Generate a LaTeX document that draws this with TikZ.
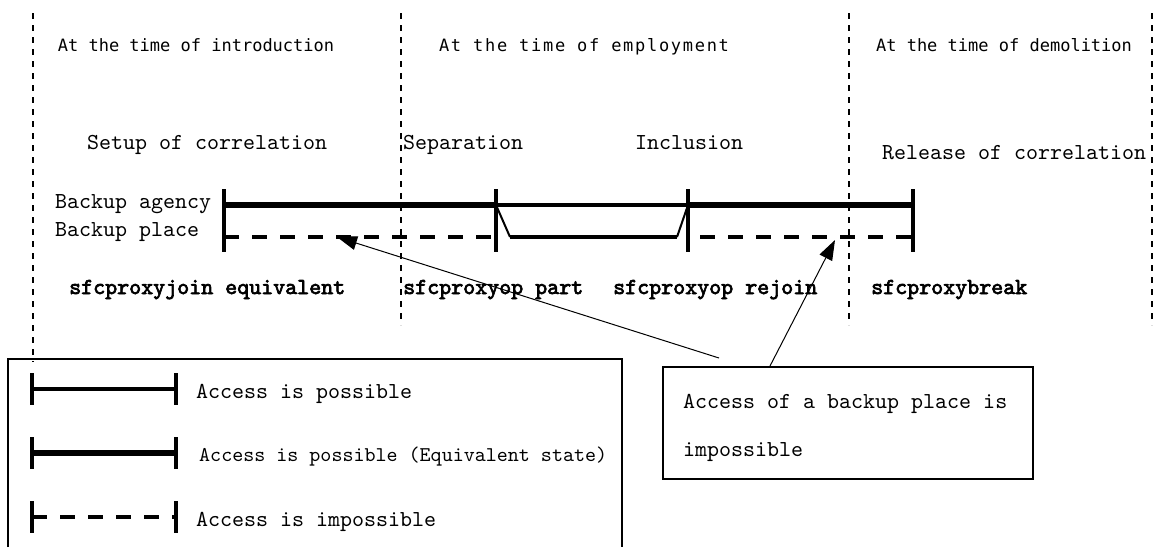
\documentclass[tikz,border=0pt]{standalone}
\usepackage{fontspec}
\newfontfamily\mono{lmmono10-regular.otf}
\newfontfamily\cmdfont{lmmono10-regular.otf}[FakeBold=3]
\newfontfamily\hdfont{DejaVu Sans Mono}
\newfontfamily\hdwide{DejaVu Sans Mono}[LetterSpace=10]
\usetikzlibrary{arrows.meta}
\begin{document}
\begin{tikzpicture}[x=1pt,y=-1pt,
  sepline/.style={line width=1.3pt, dash pattern=on 6pt off 6pt},
  thickln/.style={line width=6pt},
  thinln/.style={line width=3.2pt},
  dashln/.style={line width=4pt, dash pattern=on 15pt off 13pt},
  tickln/.style={line width=3.5pt},
  slantln/.style={line width=2pt},
  arr/.style={line width=1pt, -{Triangle[length=20pt,width=14pt]}},
  boxst/.style={draw, line width=1.5pt, inner sep=0pt, rectangle},
  txt/.style={inner sep=0pt, anchor=base west, font=\mono\fontsize{22.86}{26}\selectfont},
  cmd/.style={inner sep=0pt, anchor=base west, font=\cmdfont\fontsize{22.86}{26}\selectfont},
  hd/.style={inner sep=0pt, anchor=base, font=\hdfont\fontsize{17}{20}\selectfont},
  hdw/.style={inner sep=0pt, anchor=base, font=\hdwide\fontsize{17}{20}\selectfont}
]
\useasboundingbox[fill=white] (0,0) rectangle (1158,547);

% phase separators
\draw[sepline] (33,13) -- (33,362);
\draw[sepline] (401,13) -- (401,325);
\draw[sepline] (849,13) -- (849,325);
\draw[sepline] (1152,13) -- (1152,325);

% headers
\node[hd]  (h1) at (196,51) {At the time of introduction};
\node[hdw] (h2) at (584,51) {At the time of employment};
\node[hd]  (h3) at (1004,51) {At the time of demolition};

% operations
\node[txt] (o1) at (87,149) {Setup of correlation};
\node[txt] (o2) at (403,149) {Separation};
\node[txt] (o3) at (635,149) {Inclusion};
\node[txt] (o4) at (882,159) {Release of correlation};

% row labels
\node[txt] (ra) at (55,208) {Backup agency};
\node[txt] (rp) at (55,236) {Backup place};

% timeline coordinates
\coordinate (a1) at (224,205);
\coordinate (a2) at (496,205);
\coordinate (a3) at (688,205);
\coordinate (a4) at (913,205);
\coordinate (p1) at (224,237);
\coordinate (p2) at (496,237);
\coordinate (p2s) at (510,237);
\coordinate (p3s) at (677,237);
\coordinate (p3) at (688,237);
\coordinate (p4) at (913,237);

% backup agency
\draw[thickln] (a1) -- (a2);
\draw[thinln] (a2) -- (a3);
\draw[thickln] (a3) -- (a4);
% backup place
\draw[dashln] (p1) -- (p2);
\draw[slantln] (a2) -- (p2s);
\draw[thinln] (p2s) -- (p3s);
\draw[slantln] (p3s) -- (a3);
\draw[dashln, dash phase=16pt] (p3) -- (p4);
% ticks
\foreach \x in {224,496,688,913} \draw[tickln] (\x,189) -- (\x,252);

% commands
\node[cmd] (c1) at (69,294) {sfcproxyjoin equivalent};
\node[cmd] (c2) at (403,294) {sfcproxyop part};
\node[cmd] (c3) at (613,294) {sfcproxyop rejoin};
\node[cmd] (c4) at (871,294) {sfcproxybreak};

% note box
\node[boxst, minimum width=370pt, minimum height=112pt, anchor=north west] (note) at (662,366) {};
\node[txt] (n1) at (683,408) {Access of a backup place is};
\node[txt] (n2) at (683,456) {impossible};
\coordinate (s1) at (719,358);
\coordinate (s2) at (770,366);
\coordinate (tip1) at (337,237);
\coordinate (tip2) at (835,240);
\draw[arr] (s1) -- (tip1);
\draw[arr] (s2) -- (tip2);

% legend box
\draw[line width=1.5pt] (8,547) -- (8,359) -- (622,359) -- (622,547);
\coordinate (l1a) at (32,389); \coordinate (l1b) at (176,389);
\coordinate (l2a) at (32,453); \coordinate (l2b) at (176,453);
\coordinate (l3a) at (32,517); \coordinate (l3b) at (176,517);
\draw[thinln] (l1a) -- (l1b);
\draw[thickln] (l2a) -- (l2b);
\draw[dashln] (l3a) -- (l3b);
\foreach \y in {389,453,517} {
  \draw[tickln] (32,\y-16) -- (32,\y+16);
  \draw[tickln] (176,\y-16) -- (176,\y+16);
}
\node[txt] (t1) at (196,398) {Access is possible};
\node[txt, font=\mono\fontsize{21}{24}\selectfont] (t2) at (199,461) {Access is possible (Equivalent state)};
\node[txt] (t3) at (196,526) {Access is impossible};
\end{tikzpicture}
\end{document}
